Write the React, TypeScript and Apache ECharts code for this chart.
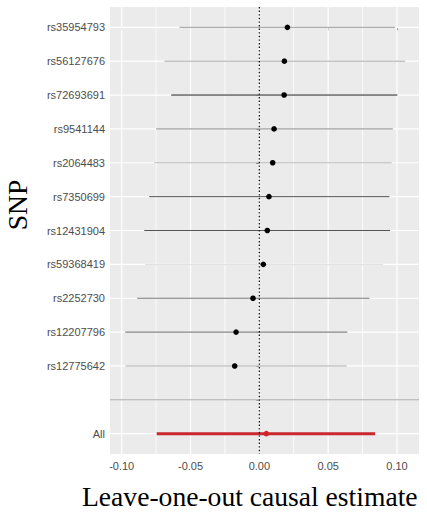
import React, { useEffect, useRef } from "react";
import * as echarts from "echarts";

// ---- data ----
const snps: string[] = [
  "rs35954793", "rs56127676", "rs72693691", "rs9541144", "rs2064483", "rs7350699",
  "rs12431904", "rs59368419", "rs2252730", "rs12207796", "rs12775642", "", "All",
];
const estimates: (number | null)[] = [
  0.0204, 0.0182, 0.018, 0.0107, 0.0097, 0.007, 0.0058, 0.0029, -0.0046, -0.0169, -0.0179, null, 0.0051,
];
const lowerCI: (number | null)[] = [
  -0.058, -0.069, -0.064, -0.075, -0.0763, -0.08, -0.0836, -0.083, -0.0887, -0.0974, -0.0972, null, -0.0746,
];
const upperCI: (number | null)[] = [
  0.0986, 0.106, 0.1003, 0.097, 0.0962, 0.0945, 0.095, 0.09, 0.08, 0.064, 0.0635, null, 0.0841,
];
const xTicks: number[] = [-0.1, -0.05, 0, 0.05, 0.1];
const xMinorGrid: number[] = [-0.075, -0.025, 0.025, 0.075];
const separatorRow = 11;
const overallRow = 12;

// ---- styles (not data) ----
const ciColours = [
  "#9a9a9a", "#a8a8a8", "#1e1e1e", "#8a8a8a", "#b8b8b8", "#555555",
  "#555555", "#dedede", "#777777", "#666666", "#ababab", "#000000", "#c9282e",
];

export default function App() {
  const ref = useRef<HTMLDivElement>(null);

  useEffect(() => {
    if (!ref.current) return;
    const chart = echarts.init(ref.current, null, { renderer: "svg" });
    const rowIdx = snps.map((_, i) => i);

    const ciData = rowIdx
      .filter((i) => estimates[i] !== null)
      .map((i) => [i, lowerCI[i], upperCI[i], estimates[i]]);

    const option: any = {
      animation: false,
      backgroundColor: "#ffffff",
      grid: {
        left: 110,
        right: 8,
        top: 7,
        bottom: 64,
        show: true,
        backgroundColor: "#ebebeb",
        borderWidth: 0,
      },
      xAxis: {
        type: "value",
        min: -0.1085,
        max: 0.116,
        axisLine: { show: false },
        splitLine: { show: false },
        axisTick: {
          show: true,
          customValues: xTicks,
          length: 3,
          lineStyle: { color: "#333333", width: 1 },
        },
        axisLabel: {
          customValues: xTicks,
          formatter: (v: number) => v.toFixed(2),
          color: "#4d4d4d",
          fontSize: 11,
          fontFamily: "Liberation Sans, Arial, sans-serif",
          margin: 6,
        },
      },
      yAxis: {
        type: "value",
        inverse: true,
        min: -0.6,
        max: 12.6,
        axisLine: { show: false },
        splitLine: { show: false },
        axisTick: {
          show: true,
          customValues: rowIdx,
          length: 3,
          lineStyle: { color: "#333333", width: 1 },
        },
        axisLabel: {
          customValues: rowIdx,
          formatter: (v: number) => snps[Math.round(v)] ?? "",
          color: "#4d4d4d",
          fontSize: 11,
          fontFamily: "Liberation Sans, Arial, sans-serif",
          margin: 5,
        },
      },
      graphic: [
        {
          type: "text",
          left: 82,
          top: 482,
          style: {
            text: "Leave-one-out causal estimate",
            fill: "#000000",
            font: "27.6px 'Liberation Serif', 'Times New Roman', serif",
          },
        },
        {
          type: "text",
          x: 17,
          y: 205,
          rotation: Math.PI / 2,
          style: {
            text: "SNP",
            fill: "#000000",
            font: "27.6px 'Liberation Serif', 'Times New Roman', serif",
            align: "center",
            verticalAlign: "middle",
          },
        },
      ],
      series: [
        // vertical grid lines
        {
          type: "custom",
          silent: true,
          z: 1,
          data: [...xMinorGrid.map((v) => [v, 0]), ...xTicks.map((v) => [v, 1])],
          renderItem: (params: any, api: any) => {
            const cs = params.coordSys;
            const x = api.coord([api.value(0), 0])[0];
            return {
              type: "line",
              shape: { x1: x, y1: cs.y, x2: x, y2: cs.y + cs.height },
              style: { stroke: "#ffffff", lineWidth: api.value(1) ? 1.2 : 0.8 },
            };
          },
        },
        // horizontal grid lines
        {
          type: "custom",
          silent: true,
          z: 1,
          data: rowIdx.map((i) => [i]),
          renderItem: (params: any, api: any) => {
            const cs = params.coordSys;
            const y = api.coord([0, api.value(0)])[1];
            return {
              type: "line",
              shape: { x1: cs.x, y1: y, x2: cs.x + cs.width, y2: y },
              style: { stroke: "#ffffff", lineWidth: 1.2 },
            };
          },
        },
        // CI segments
        {
          type: "custom",
          silent: true,
          z: 3,
          data: ciData,
          renderItem: (params: any, api: any) => {
            const row = api.value(0);
            const p1 = api.coord([api.value(1), row]);
            const p2 = api.coord([api.value(2), row]);
            const isAll = row === overallRow;
            return {
              type: "line",
              shape: { x1: p1[0], y1: p1[1], x2: p2[0], y2: p2[1] },
              style: { stroke: ciColours[row], lineWidth: isAll ? 3 : 1 },
            };
          },
        },
        // separator line
        {
          type: "custom",
          silent: true,
          z: 3,
          data: [[separatorRow]],
          renderItem: (params: any, api: any) => {
            const cs = params.coordSys;
            const y = api.coord([0, api.value(0)])[1];
            return {
              type: "line",
              shape: { x1: cs.x, y1: y, x2: cs.x + cs.width, y2: y },
              style: { stroke: "#a3a3a3", lineWidth: 1 },
            };
          },
        },
        // dotted zero line
        {
          type: "custom",
          silent: true,
          z: 4,
          data: [[0]],
          renderItem: (params: any, api: any) => {
            const cs = params.coordSys;
            const x = api.coord([api.value(0), 0])[0];
            return {
              type: "line",
              shape: { x1: x, y1: cs.y, x2: x, y2: cs.y + cs.height },
              style: { stroke: "#000000", lineWidth: 1.2, lineDash: [1.4, 2.2] },
            };
          },
        },
        // points
        {
          type: "custom",
          silent: true,
          z: 5,
          data: ciData,
          renderItem: (params: any, api: any) => {
            const row = api.value(0);
            const p = api.coord([api.value(3), row]);
            const isAll = row === overallRow;
            return {
              type: "circle",
              shape: { cx: p[0], cy: p[1], r: 2.8 },
              style: { fill: isAll ? "#d2232b" : "#000000" },
            };
          },
        },
      ],
    };

    chart.setOption(option);
    return () => chart.dispose();
  }, []);

  return (
    <div
      ref={ref}
      style={{ position: "fixed", left: 0, top: 0, width: 427, height: 518 }}
    />
  );
}
